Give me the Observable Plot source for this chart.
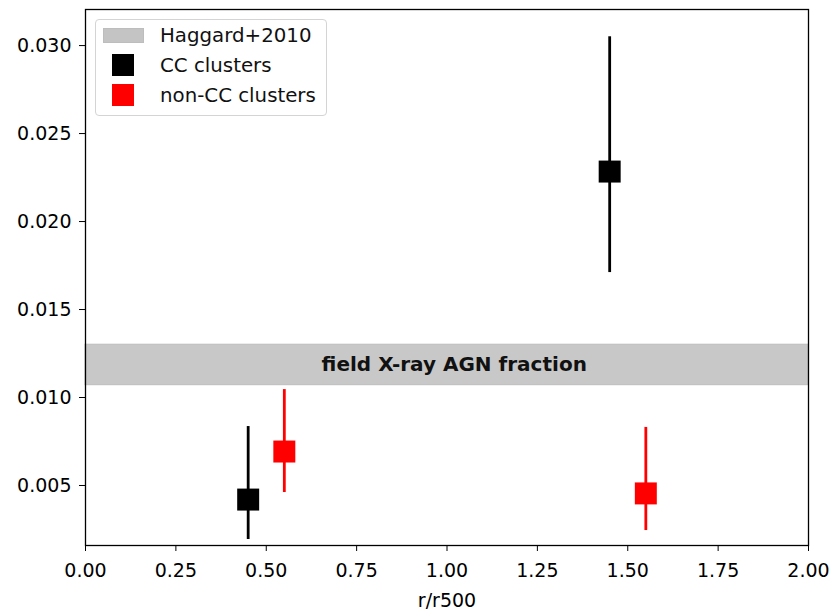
<!DOCTYPE html>
<html>
<head>
<meta charset="utf-8">
<script src="https://cdn.jsdelivr.net/npm/d3@7"></script>
<script src="https://cdn.jsdelivr.net/npm/@observablehq/plot@0.6"></script>
<style>
  html, body { margin: 0; padding: 0; background: #fff; }
  #wrap { position: relative; width: 832px; height: 609px; font-family: "DejaVu Sans", sans-serif; }
  #legend { position: absolute; left: 95px; top: 19px; width: 232px; height: 97px; box-sizing: border-box;
    border: 1px solid #d4d4d4; border-radius: 4px; background: rgba(255,255,255,0.85); font-size: 19.8px; color: #111; }
  .sw { position: absolute; }
  .lab { position: absolute; left: 64px; white-space: nowrap; line-height: 22px; }
</style>
</head>
<body>
<div id="wrap"><div id="chart"></div><div id="legend"></div></div>
<script>
// Data
const groups = ["CC clusters", "non-CC clusters"];
const groupColors = ["#000000", "#ff0000"];
const rValues = [0.45, 0.55, 1.45, 1.55];
const rGroups = ["CC clusters", "non-CC clusters", "CC clusters", "non-CC clusters"];
const fraction = [0.0042, 0.00693, 0.02284, 0.00455];
const fracLow = [0.00193, 0.0046, 0.0171, 0.00244];
const fracHigh = [0.00835, 0.01045, 0.0305, 0.0083];
const bandLabel = "Haggard+2010";
const bandLow = [0.0107];
const bandHigh = [0.0130];
const bandText = "field X-ray AGN fraction";
const xTicks = [0, 0.25, 0.5, 0.75, 1.0, 1.25, 1.5, 1.75, 2.0];
const yTicks = [0.005, 0.010, 0.015, 0.020, 0.025, 0.030];

const points = rValues.map((r, i) => ({r, group: rGroups[i], f: fraction[i], lo: fracLow[i], hi: fracHigh[i]}));
const band = bandLow.map((lo, i) => ({lo, hi: bandHigh[i], x1: 0, x2: 2, xm: 1.02, text: bandText}));
const colorOf = g => groupColors[groups.indexOf(g)];

const chart = Plot.plot({
  width: 832,
  height: 609,
  marginLeft: 85,
  marginRight: 24,
  marginTop: 9,
  marginBottom: 64,
  style: {fontFamily: "DejaVu Sans, sans-serif", color: "#000", background: "#fff"},
  x: {domain: [0, 2]},
  y: {domain: [0.00159, 0.03205]},
  marks: [
    Plot.rect(band, {x1: "x1", x2: "x2", y1: "lo", y2: "hi", fill: "#c8c8c8", stroke: "#bdbdbd", strokeWidth: 1}),
    Plot.text(band, {x: "xm", y: d => (d.lo + d.hi) / 2, text: "text", fontWeight: "bold", fontSize: 20, fill: "#111"}),
    Plot.ruleX(points, {x: "r", y1: "lo", y2: "hi", stroke: d => colorOf(d.group), strokeWidth: 2.8}),
    Plot.dot(points, {x: "r", y: "f", symbol: "square", r: 12.4, fill: d => colorOf(d.group), stroke: null}),
    Plot.axisY({ticks: yTicks, tickFormat: d3.format(".3f"), tickSize: 6, tickPadding: 8, fontSize: 19, label: null}),
    Plot.axisX({ticks: xTicks, tickFormat: d3.format(".2f"), tickSize: 6, tickPadding: 12, fontSize: 19,
      label: "r/r500", labelAnchor: "center", labelArrow: "none", labelOffset: 61}),
    Plot.frame({stroke: "#000", strokeWidth: 1.3})
  ]
});
document.getElementById("chart").appendChild(chart);

// Legend (HTML overlay)
const legend = document.getElementById("legend");
const entries = [
  {label: bandLabel, kind: "band", color: "#c4c4c4"},
  ...groups.map((g, i) => ({label: g, kind: "square", color: groupColors[i]}))
];
entries.forEach((e, i) => {
  const top = 6 + i * 30;
  const sw = document.createElement("div");
  sw.className = "sw";
  if (e.kind === "band") {
    Object.assign(sw.style, {left: "7px", top: (top + 2) + "px", width: "41px", height: "15px", background: e.color, border: "1px solid #bdbdbd", boxSizing: "border-box"});
  } else {
    Object.assign(sw.style, {left: "16px", top: (top - 2) + "px", width: "22px", height: "22px", background: e.color});
  }
  legend.appendChild(sw);
  const lab = document.createElement("div");
  lab.className = "lab";
  lab.style.top = (top - 1) + "px";
  lab.textContent = e.label;
  legend.appendChild(lab);
});
</script>
</body>
</html>
